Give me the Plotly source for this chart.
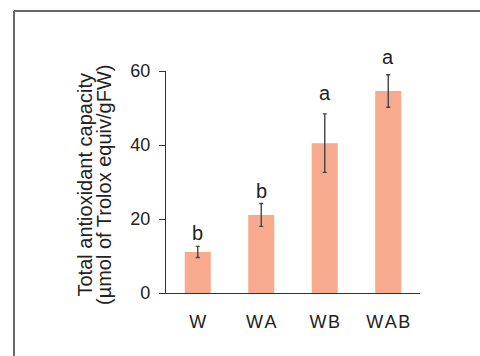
import plotly.graph_objects as go

categories = ["W", "WA", "WB", "WAB"]
tick_text = ["W", "W\u200aA", "W\u200aB", "W\u200aA\u200aB"]
values = [11.1, 21.1, 40.5, 54.6]
errors = [1.5, 3.1, 7.9, 4.4]
letters = ["b", "b", "a", "a"]
letter_y = [13.9, 25.1, 51.7, 61.4]
y_ticks = [0, 20, 40, 60]
y_max = 60

W, H = 480, 356
L, R, T, B = 166, 60, 71, 63
pw = W - L - R
ph = H - T - B

def px_x(x):
    return (x - L) / pw

def px_y(y):
    return (H - B - y) / ph

FONT = "Liberation Sans, Arial, Helvetica, sans-serif"
axis_col = "#333333"

fig = go.Figure()
fig.add_trace(go.Bar(
    x=categories, y=values, width=0.41,
    marker=dict(color="#F8AA8E", line=dict(width=0)),
    error_y=dict(type="data", array=errors, visible=True,
                 color="#444444", thickness=1.4, width=2),
    showlegend=False,
))

for c, t, ly in zip(categories, letters, letter_y):
    fig.add_annotation(x=c, y=ly / y_max, text=t, showarrow=False,
                       xref="x", yref="paper", yanchor="bottom", yshift=-4,
                       font=dict(family=FONT, size=20, color="#222222"))

title_lines = ["Total antioxidant capacity", "(µmol of Trolox equiv/gFW)"]
title_x = [84.5, 104]
for txt, tx in zip(title_lines, title_x):
    fig.add_annotation(x=px_x(tx), y=px_y(185), xref="paper", yref="paper",
                       text=txt, textangle=-90, showarrow=False,
                       xanchor="center", yanchor="middle",
                       font=dict(family=FONT, size=20, color="#222222"))

# outer frame (cropped box)
fig.add_shape(type="line", xref="paper", yref="paper",
              x0=px_x(14), x1=px_x(500), y0=px_y(11), y1=px_y(11),
              line=dict(color="#333333", width=1.5))
fig.add_shape(type="line", xref="paper", yref="paper",
              x0=px_x(14), x1=px_x(14), y0=px_y(11), y1=px_y(380),
              line=dict(color="#666666", width=2))

fig.update_layout(
    width=W, height=H,
    margin=dict(l=L, r=R, t=T, b=B),
    paper_bgcolor="white", plot_bgcolor="white",
    font=dict(family=FONT, color="#222222"),
)
fig.update_xaxes(
    range=[-0.5, 3.5], showline=True, linecolor=axis_col, linewidth=1.3,
    ticks="", showgrid=False, zeroline=False,
    tickmode="array", tickvals=categories, ticktext=tick_text,
    ticklabelstandoff=12,
    tickfont=dict(family=FONT, size=18, color="#222222"),
)
fig.update_yaxes(
    range=[0, y_max], tickvals=y_ticks, showline=True, linecolor=axis_col,
    linewidth=1.3, ticks="outside", ticklen=6, tickcolor=axis_col,
    tickwidth=1.3, showgrid=False, zeroline=False,
    ticklabelstandoff=5,
    tickfont=dict(family=FONT, size=18, color="#222222"),
)

fig.write_html(
    "out.html",
    config={"displayModeBar": False},
    post_script="document.body.style.margin='0';document.body.style.overflow='hidden';",
)
